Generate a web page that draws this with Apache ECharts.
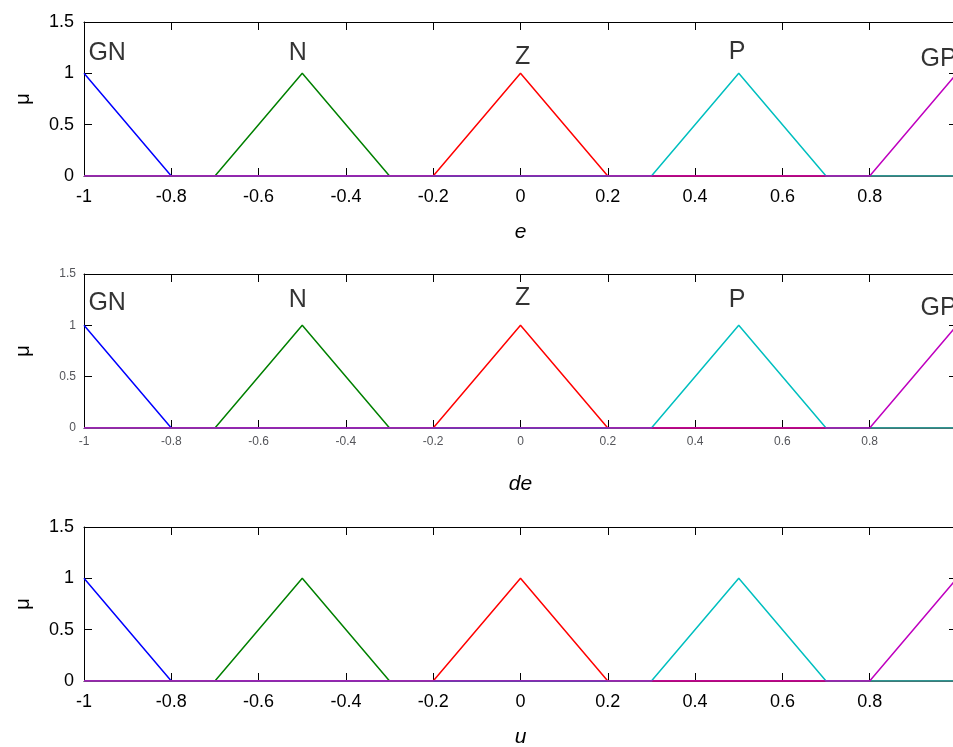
<!DOCTYPE html>
<html>
<head>
<meta charset="utf-8">
<script src="https://cdn.jsdelivr.net/npm/echarts@6/dist/echarts.min.js"></script>
<style>
  html, body { margin: 0; padding: 0; background: #fff; overflow: hidden; }
  #chart { width: 975px; height: 747px; }
</style>
</head>
<body>
<div id="chart"></div>
<script>
var setNames = ['GN', 'N', 'Z', 'P', 'GP'];
var setColors = ['#0000ff', '#008000', '#ff0000', '#00bfbf', '#bf00bf'];

var gnX = [-1, -0.8, 1];             var gnY = [1, 0, 0];
var nX = [-1, -0.7, -0.5, -0.3, 1];  var nY = [0, 0, 1, 0, 0];
var zX = [-1, -0.2, 0, 0.2, 1];      var zY = [0, 0, 1, 0, 0];
var pX = [-1, 0.3, 0.5, 0.7, 1];     var pY = [0, 0, 1, 0, 0];
var gpX = [-1, 0.8, 1];              var gpY = [0, 0, 1];

var labelX = [-0.947, -0.51, 0.005, 0.496, 0.958];
var labelY1 = [1.20, 1.20, 1.16, 1.21, 1.14];
var labelY2 = [1.22, 1.25, 1.27, 1.25, 1.17];
var labelY3 = [1.15, 1.23, 1.23, 1.28, 1.13];

var axisNames = ['e', 'de', 'u'];
var yName = '\u03bc';
var xMin = -1, xMax = 1, xStep = 0.2;
var yMin = 0, yMax = 1.5, yStep = 0.5;

var setsX = [gnX, nX, zX, pX, gpX];
var setsY = [gnY, nY, zY, pY, gpY];
var labelRows = [labelY1, labelY2, labelY3];

var gridLeft = 84, gridWidth = 873, gridHeight = 154;
var gridTops = [22, 274, 527];
var font = "'Liberation Sans', Arial, sans-serif";

function zip(xs, ys) {
    return xs.map(function(x, i) { return [x, ys[i]]; });
}

function tick() {
    return { show: true, inside: true, length: 8, lineStyle: { color: '#000', width: 1 } };
}

// diagnostic: grid 1 uses plain label styling
function labelStyle(g, show, margin) {
    if (g === 1) return { show: show };
    return { show: show, margin: margin, fontFamily: font, fontSize: 18, color: '#000' };
}

function xAxisFor(g, pos, withLabels) {
    return {
        type: 'value', gridIndex: g, position: pos,
        min: xMin, max: xMax, interval: xStep,
        axisLine: { show: true, onZero: false, lineStyle: { color: '#000', width: 1 } },
        axisTick: tick(),
        axisLabel: labelStyle(g, withLabels, 12),
        splitLine: { show: false }
    };
}

function yAxisFor(g, pos, withLabels) {
    return {
        type: 'value', gridIndex: g, position: pos,
        min: yMin, max: yMax, interval: yStep,
        axisLine: { show: true, onZero: false, lineStyle: { color: '#000', width: 1 } },
        axisTick: tick(),
        axisLabel: labelStyle(g, withLabels, 10),
        splitLine: { show: false }
    };
}

var grids = [], xAxes = [], yAxes = [], series = [], titles = [];

gridTops.forEach(function(top, g) {
    var grid = { left: gridLeft, top: top, width: gridWidth, height: gridHeight };
    if (g !== 0) grid.outerBoundsMode = 'none';
    grids.push(grid);

    xAxes.push(xAxisFor(g, 'bottom', true));
    xAxes.push(xAxisFor(g, 'top', false));
    yAxes.push(yAxisFor(g, 'left', true));
    yAxes.push(yAxisFor(g, 'right', false));

    titles.push({
        type: 'text', silent: true,
        x: gridLeft + gridWidth / 2, y: top + gridHeight + 56,
        style: { text: axisNames[g], font: 'italic 21px ' + font, fill: '#000', align: 'center', verticalAlign: 'middle' }
    });
    titles.push({
        type: 'text', silent: true,
        x: 23, y: top + gridHeight / 2, rotation: Math.PI / 2,
        style: { text: yName, font: '20px ' + font, fill: '#000', align: 'center', verticalAlign: 'middle' }
    });

    setNames.forEach(function(name, i) {
        series.push({
            type: 'line', name: name,
            xAxisIndex: 2 * g, yAxisIndex: 2 * g,
            data: zip(setsX[i], setsY[i]),
            showSymbol: false, symbol: 'none',
            lineStyle: { color: setColors[i], width: 1.5 }
        });
    });

    if (g !== 2) {
        series.push({
            type: 'scatter',
            xAxisIndex: 2 * g, yAxisIndex: 2 * g,
            symbolSize: 0, clip: false, silent: true,
            data: labelX.map(function(x, i) { return [x, labelRows[g][i], setNames[i]]; }),
            label: {
                show: true, position: 'inside',
                formatter: function(p) { return p.data[2]; },
                fontFamily: font, fontSize: 25, color: '#000'
            }
        });
    }
});

var chart = echarts.init(document.getElementById('chart'), null, { renderer: 'canvas' });
chart.setOption({
    animation: false,
    grid: grids,
    xAxis: xAxes,
    yAxis: yAxes,
    graphic: titles,
    series: series
});
</script>
</body>
</html>
